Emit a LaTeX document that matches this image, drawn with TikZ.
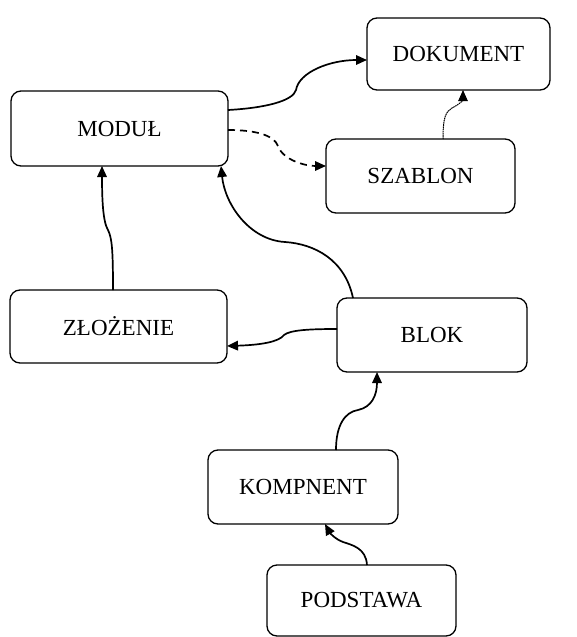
\documentclass[tikz,border=0pt]{standalone}
\usepackage{fontspec}
\setmainfont{Liberation Serif}
\usetikzlibrary{arrows.meta}
\tikzset{
  box/.style={draw, line width=1.3pt, rounded corners=10pt, inner sep=0pt, outer sep=0pt,
    font=\fontsize{23}{26}\selectfont},
  conn/.style={line width=1.7pt, -{Triangle[length=11pt,width=9.5pt]}},
  dashconn/.style={conn, dash pattern=on 7pt off 5pt},
  thinconn/.style={line width=1pt, dash pattern=on 1.6pt off 0.6pt, -{Triangle[length=11pt,width=9.5pt]}}
}
\begin{document}
\begin{tikzpicture}[x=1pt,y=-1pt]
\useasboundingbox (0,0) rectangle (577,637);
\node[box, minimum width=183pt, minimum height=72pt] (dok) at (458.5,54) {DOKUMENT};
\node[box, minimum width=217pt, minimum height=75pt] (mod) at (119.5,128.5) {MODUŁ};
\node[box, minimum width=189pt, minimum height=74pt] (szab) at (420.5,176) {SZABLON};
\node[box, minimum width=217pt, minimum height=73pt] (zlo) at (118.5,326.5) {ZŁOŻENIE};
\node[box, minimum width=190pt, minimum height=74pt] (blok) at (432,335) {BLOK};
\node[box, minimum width=190pt, minimum height=74pt] (komp) at (303,487) {KOMPNENT};
\node[box, minimum width=189pt, minimum height=71pt] (pod) at (361.5,600.5) {PODSTAWA};

% MODUL -> DOKUMENT
\draw[conn] ([yshift=18.5pt]mod.east) .. controls (265,108) and (293,101) .. (296,90)
  .. controls (299,72) and (330,60) .. ([yshift=-6pt]dok.west);
% MODUL -> SZABLON (dashed)
\draw[dashconn] ([yshift=-1.5pt]mod.east) .. controls (255,130) and (274,135) .. (278,146)
  .. controls (283,160) and (305,166) .. ([yshift=10pt]szab.west);
% SZABLON -> DOKUMENT (thin)
\draw[thinconn] ([xshift=22.5pt]szab.north) .. controls (443,116) and (446,112) .. (452,108)
  .. controls (460,104) and (463,100) .. ([xshift=4.5pt]dok.south);
% ZLOZENIE -> MODUL
\draw[conn] ([xshift=-5.5pt]zlo.north) .. controls (113,250) and (112,238) .. (108,230)
  .. controls (103,222) and (102,200) .. ([xshift=-17.5pt]mod.south);
% BLOK -> MODUL
\draw[conn] ([xshift=-79pt]blok.north) .. controls (345,260) and (315,244) .. (285,242)
  .. controls (250,240) and (225,205) .. ([xshift=101.5pt]mod.south);
% BLOK -> ZLOZENIE
\draw[conn] ([yshift=6pt]blok.west) .. controls (310,329) and (290,330) .. (284,335)
  .. controls (279,342) and (260,345) .. ([yshift=-19.5pt]zlo.east);
% KOMPNENT -> BLOK
\draw[conn] ([xshift=33pt]komp.north) .. controls (336,425) and (345,412) .. (358,410)
  .. controls (372,407) and (377,395) .. ([xshift=-55pt]blok.south);
% PODSTAWA -> KOMPNENT
\draw[conn] ([xshift=5.5pt]pod.north) .. controls (366,548) and (352,545) .. (343,542)
  .. controls (335,539) and (330,533) .. ([xshift=22pt]komp.south);
\end{tikzpicture}
\end{document}
